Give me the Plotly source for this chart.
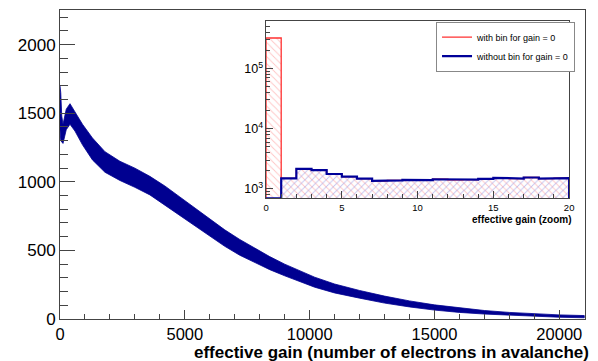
import plotly.graph_objects as go
import numpy as np

# ---------------- main histogram (band of the noisy histogram)
gain_x = [0, 30, 70, 120, 250, 400, 600, 900, 1300, 1800, 2400, 3000, 3600, 4200, 4800,
          5400, 6000, 6600, 7200, 7800, 8400, 9000, 9600, 10200, 11000, 12000, 13000,
          14000, 15000, 16000, 17000, 18000, 19000, 20000, 21000]
gain_upper = [1700, 1650, 1480, 1420, 1530, 1570, 1510, 1420, 1320, 1220, 1150, 1100, 1040,
              970, 890, 810, 730, 650, 580, 515, 455, 400, 350, 305, 255, 208, 167, 132,
              103, 80, 62, 48, 38, 30, 25]
gain_lower = [1380, 1300, 1290, 1280, 1380, 1420, 1370, 1270, 1160, 1070, 1010, 960, 905,
              830, 755, 680, 605, 530, 465, 410, 360, 315, 272, 232, 190, 152, 116, 88,
              65, 48, 36, 26, 19, 13, 9]

# ---------------- inset (zoom) histograms, bins of width 1 from 0 to 20
zoom_edges = list(range(0, 21))
with_zero = [320000, 1500, 2150, 2050, 1770, 1600, 1490, 1360, 1390, 1420, 1400, 1450,
             1420, 1430, 1470, 1530, 1490, 1550, 1490, 1510]
without_zero = [0, 1500, 2150, 2050, 1770, 1600, 1490, 1360, 1390, 1420, 1400, 1450,
                1420, 1430, 1470, 1530, 1490, 1550, 1490, 1510]

main_xtick = [0, 5000, 10000, 15000, 20000]
main_ytick = [0, 500, 1000, 1500, 2000]

NAVY = "#000090"
FONT = "Liberation Sans, Arial, Helvetica, sans-serif"

fig = go.Figure()

# main band
fig.add_trace(go.Scatter(
    x=gain_x + gain_x[::-1], y=gain_upper + gain_lower[::-1],
    fill="toself", fillcolor=NAVY, line=dict(color=NAVY, width=0.8),
    mode="lines", showlegend=False, hoverinfo="skip", xaxis="x", yaxis="y"))

# inset
ymin_log, ymax_log = np.log10(700), np.log10(6.2e5)
ylow = 10 ** ymin_log
centers = [e + 0.5 for e in zoom_edges[:-1]]

fig.add_trace(go.Bar(
    x=centers, y=with_zero, width=1, xaxis="x2", yaxis="y2",
    marker=dict(color="rgba(0,0,0,0)", line=dict(width=0),
                pattern=dict(shape="\\", fgcolor="#ff8a8a", bgcolor="rgba(0,0,0,0)",
                             size=5, solidity=0.18)),
    showlegend=False, hoverinfo="skip"))
fig.add_trace(go.Bar(
    x=[c for c, v in zip(centers, without_zero) if v > 0],
    y=[v for v in without_zero if v > 0], width=1, xaxis="x2", yaxis="y2",
    marker=dict(color="rgba(0,0,0,0)", line=dict(width=0),
                pattern=dict(shape="/", fgcolor="#8a8ae0", bgcolor="rgba(0,0,0,0)",
                             size=5, solidity=0.18)),
    showlegend=False, hoverinfo="skip"))

def step(vals):
    xs, ys = [zoom_edges[0]], [ylow]
    for i, v in enumerate(vals):
        vv = max(v, ylow)
        xs += [zoom_edges[i], zoom_edges[i + 1]]
        ys += [vv, vv]
    xs.append(zoom_edges[-1]); ys.append(ylow)
    return xs, ys

rx, ry = step(with_zero)
bx, by = step(without_zero)
fig.add_trace(go.Scatter(x=rx, y=ry, mode="lines", line=dict(color="#ff3030", width=1.3),
                         name="with bin for gain = 0", xaxis="x2", yaxis="y2", hoverinfo="skip"))
fig.add_trace(go.Scatter(x=bx, y=by, mode="lines", line=dict(color="#000099", width=2.2),
                         name="without bin for gain = 0", xaxis="x2", yaxis="y2", hoverinfo="skip"))

axis_common = dict(showline=True, mirror=True, showgrid=False, zeroline=False,
                   ticks="inside", tickcolor="#444", linecolor="#444", linewidth=1)

inx0, inx1 = (268 - 60) / 530, (574 - 60) / 530
iny0, iny1 = (319 - 198.3) / 309, (319 - 20.7) / 309

fig.update_layout(
    width=598, height=361,
    margin=dict(l=60, r=8, t=10, b=42),
    paper_bgcolor="white", plot_bgcolor="white",
    font=dict(family=FONT, color="black"),
    barmode="overlay", bargap=0,
    xaxis=dict(**axis_common, domain=[0, 1], range=[0, 21030], tickvals=main_xtick,
               ticktext=[str(v) for v in main_xtick], ticklen=9,
               minor=dict(ticks="inside", ticklen=5, dtick=1000, tickcolor="#444", showgrid=False),
               tickfont=dict(size=16.5, family=FONT)),
    yaxis=dict(**axis_common, domain=[0, 1], range=[0, 2253], tickvals=main_ytick,
               ticktext=[str(v) for v in main_ytick], ticklen=15,
               minor=dict(ticks="inside", ticklen=8, dtick=100, tickcolor="#444", showgrid=False),
               tickfont=dict(size=17, family=FONT)),
    xaxis2=dict(**axis_common, domain=[inx0, inx1], anchor="y2", range=[0, 20],
                tickvals=[0, 5, 10, 15, 20], ticklen=7,
                minor=dict(ticks="inside", ticklen=4, dtick=1, tickcolor="#444", showgrid=False),
                tickfont=dict(size=9.5, family=FONT)),
    yaxis2=dict(**axis_common, domain=[iny0, iny1], anchor="x2", type="log",
                range=[ymin_log, ymax_log], dtick=1, exponentformat="power", ticklen=7,
                minor=dict(ticks="inside", ticklen=4, tickcolor="#444", showgrid=False),
                tickfont=dict(size=10, family=FONT)),
    legend=dict(x=0.981, y=(319 - 21.7) / 309, xanchor="right", yanchor="top",
                bgcolor="white", bordercolor="#888", borderwidth=1,
                font=dict(size=9, family=FONT), tracegroupgap=0, itemwidth=30),
    annotations=[
        dict(text="<b>effective gain (number of electrons in avalanche)</b>", xref="paper",
             yref="paper", x=1.012, y=(319 - 352.5) / 309, xanchor="right", yanchor="middle",
             showarrow=False, font=dict(size=17, family=FONT)),
        dict(text="<b>effective gain (zoom)</b>", xref="paper", yref="paper", x=inx1 + 0.008,
             y=(319 - 219) / 309, xanchor="right", yanchor="middle", showarrow=False,
             font=dict(size=10, family=FONT)),
    ],
)

fig.write_html("out.html")
